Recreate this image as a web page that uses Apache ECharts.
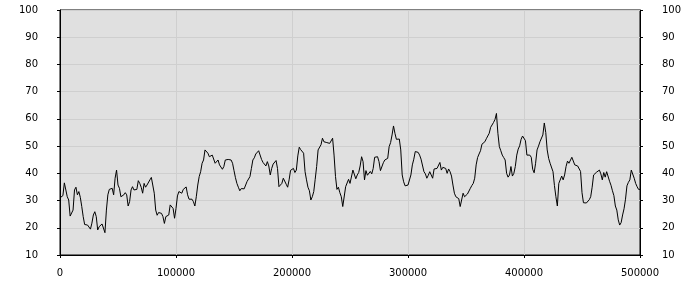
<!DOCTYPE html>
<html><head><meta charset="utf-8">
<script src="https://cdn.jsdelivr.net/npm/echarts@6/dist/echarts.min.js"></script>
<style>html,body{margin:0;padding:0;background:#fff}#c{width:700px;height:300px}</style>
</head><body><div id="c"></div>
<script>
var xStep = 1250;
var values = [
31,31.4, 31.8,36.5, 36.3,31.4, 30.2,24.3, 24.3,26.5, 33.9,34.9, 32.1,33.3, 31.2,27.8, 24.1,21.2, 21.0,21.0,
20.7,19.5, 21.7,24.7, 25.9,24.1, 19.2,20.4, 21.0,21.4, 21.7,18.2, 26.5,32.1, 34.1,34.1, 34.5,32.1, 38.2,41.2,
35.7,34.5, 31.4,32.1, 32.1,32.9, 32.1,28.0, 29.6,33.9, 35.1,33.9, 33.3,34.1, 37.3,36.3, 34.9,32.7, 36.3,34.9,
35.7,36.3, 37.6,38.5, 38.5,32.7, 26.5,24.6, 25.6,25.9, 25.3,24.1, 21.6,24.1, 23.8,24.7, 28.4,27.8, 27.1,23.5,
27.1,31.7, 33.3,33.9, 32.7,34.1, 33.9,35.0, 32.1,30.5, 30.8,30.5, 29.6,28.0, 31.4,35.7, 38.8,40.6, 43.7,44.9,
48.6,48.0, 47.4,46.1, 46.1,46.7, 46.1,43.7, 43.1,44.9, 43.1,42.6, 41.5,42.5, 44.9,45.4, 45.1,45.4, 44.9,43.7,
41.0,38.4, 36.3,34.9, 33.6,34.4, 34.9,34.3, 34.9,37.0, 37.5,38.8, 41.8,44.9, 45.7,47.1, 47.8,48.3, 48.0,45.1,
44.0,44.7, 42.7,44.3, 42.7,39.4, 41.8,43.4, 43.9,44.7, 41.8,35.1, 34.6,36.3, 38.2,38.5, 36.0,34.9, 37.6,41.1,
41.2,41.8, 40.3,41.2, 46.4,49.6, 48.7,49.2, 47.4,40.6, 37.6,34.9, 33.6,30.2, 31.4,33.3, 37.8,42.5, 48.6,48.6,
50.5,52.9, 51.6,51.6, 51.3,51.6, 51.0,51.3, 52.9,46.7, 38.8,34.1, 34.9,32.9, 31.4,27.8, 28.0,35.1, 35.7,37.8,
36.3,36.3, 41.2,40.6, 38.0,39.4, 40.3,42.7, 46.1,44.3, 37.6,41.0, 39.3,39.8, 40.7,39.8, 41.8,45.9, 45.5,46.1,
44.3,41.0, 40.3,43.9, 44.9,44.3, 45.5,49.8, 51.3,54.1, 57.4,54.7, 52.5,52.1, 52.6,48.6, 39.4,36.9, 35.4,35.7,
35.7,36.3, 39.4,43.1, 45.2,48.0, 48.6,47.7, 46.7,45.2, 44.9,40.6, 39.8,38.2, 39.3,40.6, 39.4,38.2, 41.6,41.8,
41.8,42.5, 44.0,41.2, 42.2,42.5, 41.8,40.0, 41.6,40.6, 39.0,35.7, 32.7,31.4, 31.7,30.7, 27.8,28.0, 32.7,31.4,
31.8,32.4, 32.7,34.5, 35.5,36.3, 38.2,43.1, 45.8,47.1, 48.3,50.7, 50.7,51.6, 52.7,53.2, 54.7,56.9, 57.4,58.7,
59.8,62.0, 54.7,49.8, 48.3,46.7, 45.8,44.9, 40.0,38.6, 39.4,42.5, 39.0,40.0, 42.5,46.7, 48.9,50.1, 52.5,53.7,
53.7,52.0, 46.7,46.7, 46.7,45.9, 41.5,40.2, 43.7,48.6, 50.0,51.6, 51.4,54.1, 58.5,55.0, 48.6,45.5, 43.7,44.2,
40.6,35.5, 31.4,28.0, 36.3,36.3, 39.0,37.6, 39.4,42.5, 44.5,43.7, 43.7,45.9, 45.5,43.1, 43.1,42.7, 42.2,40.7,
32.9,29.2, 29.0,29.1, 29.6,30.3, 31.4,34.9, 39.4,38.8, 40.4,40.3, 41.2,39.8, 37.6,40.3, 38.6,40.6, 40.0,37.1,
35.6,33.6, 31.8,28.0, 26.5,22.9, 21.0,21.9, 24.7,27.0, 30.5,35.4, 36.7,37.6, 41.2,40.6, 38.2,36.3, 35.1,34.1,
34.1
];
var xMin = 0, xMax = 500000, xInterval = 100000;
var yMin = 10, yMax = 100, yInterval = 10;

var seriesData = values.map(function (v, i) { return [i * xStep, v]; });
var font = {fontFamily: 'DejaVu Sans', fontSize: 10, color: '#000'};
function plain(v) { return String(v); }
function yAx(pos) {
  return {
    type: 'value', position: pos, min: yMin, max: yMax, interval: yInterval,
    axisLine: {show: true, lineStyle: {color: '#000'}},
    axisTick: {show: true, length: 3, lineStyle: {color: '#000'}},
    axisLabel: Object.assign({margin: 22, formatter: plain}, font),
    splitLine: {show: pos === 'left', lineStyle: {color: '#cfcfcf', width: 1}}
  };
}
var chart = echarts.init(document.getElementById('c'), null, {renderer: 'canvas'});
chart.setOption({
  animation: false,
  grid: {left: 60, right: 60, top: 10, bottom: 45, show: true, backgroundColor: '#e0e0e0', borderColor: '#000', borderWidth: 1},
  xAxis: {
    type: 'value', min: xMin, max: xMax, interval: xInterval,
    axisLine: {show: true, lineStyle: {color: '#000'}},
    axisTick: {show: true, length: 3, lineStyle: {color: '#000'}},
    axisLabel: Object.assign({margin: 13, formatter: plain}, font),
    splitLine: {show: true, lineStyle: {color: '#cfcfcf', width: 1}}
  },
  yAxis: [yAx('left'), yAx('right')],
  series: [{
    type: 'line', data: seriesData, showSymbol: false, symbol: 'none',
    lineStyle: {color: '#000', width: 1}, yAxisIndex: 0
  }]
});
</script></body></html>
